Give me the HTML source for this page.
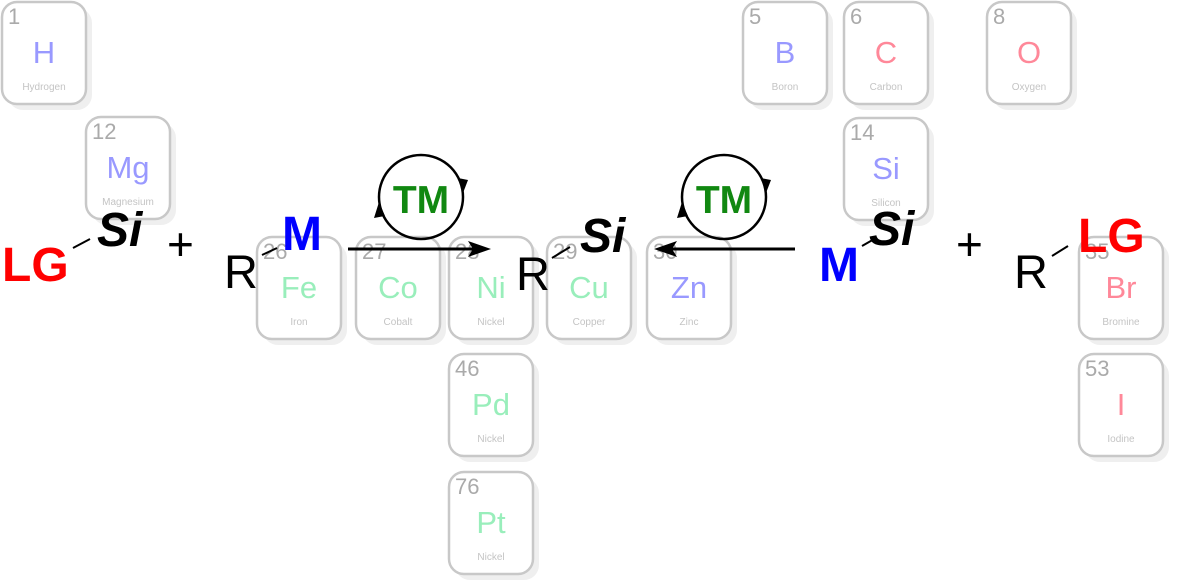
<!DOCTYPE html>
<html><head><meta charset="utf-8"><style>
html,body{margin:0;padding:0;background:#fff;}
svg{display:block;}
.tile{fill:#fff;stroke:#c8c8c8;stroke-width:2.5;}
.sh{fill:#efefef;}
.num{font:22px "Liberation Sans",sans-serif;fill:#aaa;}
.sym{font:31px "Liberation Sans",sans-serif;text-anchor:middle;}
.nm{font:10px "Liberation Sans",sans-serif;fill:#c4c4c4;text-anchor:middle;}
.b{font-family:"Liberation Sans",sans-serif;font-weight:bold;}
.r{font-family:"Liberation Sans",sans-serif;}
</style></head><body>
<svg width="1177" height="586" viewBox="0 0 1177 586" xmlns="http://www.w3.org/2000/svg">
<defs>
<g id="t"><rect class="sh" x="6" y="6" width="84" height="102" rx="15"/><rect class="tile" x="0" y="0" width="84" height="102" rx="15"/></g>
</defs>
<g transform="translate(2,2)"><use href="#t"/><text class="num" x="6" y="22">1</text><text class="sym" x="42" y="61" fill="#9999ff">H</text><text class="nm" x="42" y="88">Hydrogen</text></g>
<g transform="translate(86,117)"><use href="#t"/><text class="num" x="6" y="22">12</text><text class="sym" x="42" y="61" fill="#9999ff">Mg</text><text class="nm" x="42" y="88">Magnesium</text></g>
<g transform="translate(743,2)"><use href="#t"/><text class="num" x="6" y="22">5</text><text class="sym" x="42" y="61" fill="#9999ff">B</text><text class="nm" x="42" y="88">Boron</text></g>
<g transform="translate(844,2)"><use href="#t"/><text class="num" x="6" y="22">6</text><text class="sym" x="42" y="61" fill="#ff8899">C</text><text class="nm" x="42" y="88">Carbon</text></g>
<g transform="translate(987,2)"><use href="#t"/><text class="num" x="6" y="22">8</text><text class="sym" x="42" y="61" fill="#ff8899">O</text><text class="nm" x="42" y="88">Oxygen</text></g>
<g transform="translate(844,118)"><use href="#t"/><text class="num" x="6" y="22">14</text><text class="sym" x="42" y="61" fill="#9999ff">Si</text><text class="nm" x="42" y="88">Silicon</text></g>
<g transform="translate(257,237)"><use href="#t"/><text class="num" x="6" y="22">26</text><text class="sym" x="42" y="61" fill="#99eebb">Fe</text><text class="nm" x="42" y="88">Iron</text></g>
<g transform="translate(356,237)"><use href="#t"/><text class="num" x="6" y="22">27</text><text class="sym" x="42" y="61" fill="#99eebb">Co</text><text class="nm" x="42" y="88">Cobalt</text></g>
<g transform="translate(449,237)"><use href="#t"/><text class="num" x="6" y="22">28</text><text class="sym" x="42" y="61" fill="#99eebb">Ni</text><text class="nm" x="42" y="88">Nickel</text></g>
<g transform="translate(547,237)"><use href="#t"/><text class="num" x="6" y="22">29</text><text class="sym" x="42" y="61" fill="#99eebb">Cu</text><text class="nm" x="42" y="88">Copper</text></g>
<g transform="translate(647,237)"><use href="#t"/><text class="num" x="6" y="22">30</text><text class="sym" x="42" y="61" fill="#9999ff">Zn</text><text class="nm" x="42" y="88">Zinc</text></g>
<g transform="translate(449,354)"><use href="#t"/><text class="num" x="6" y="22">46</text><text class="sym" x="42" y="61" fill="#99eebb">Pd</text><text class="nm" x="42" y="88">Nickel</text></g>
<g transform="translate(449,472)"><use href="#t"/><text class="num" x="6" y="22">76</text><text class="sym" x="42" y="61" fill="#99eebb">Pt</text><text class="nm" x="42" y="88">Nickel</text></g>
<g transform="translate(1079,237)"><use href="#t"/><text class="num" x="6" y="22">35</text><text class="sym" x="42" y="61" fill="#ff8899">Br</text><text class="nm" x="42" y="88">Bromine</text></g>
<g transform="translate(1079,354)"><use href="#t"/><text class="num" x="6" y="22">53</text><text class="sym" x="42" y="61" fill="#ff8899">I</text><text class="nm" x="42" y="88">Iodine</text></g>

<!-- left reaction -->
<text class="b" x="2" y="281" font-size="48" fill="#ff0000">LG</text>
<line x1="73" y1="248" x2="90" y2="239" stroke="#000" stroke-width="2"/>
<text class="b" x="97" y="246" font-size="48" font-style="italic" fill="#000">Si</text>
<text class="r" x="167" y="260" font-size="46" fill="#000">+</text>
<text class="r" x="224" y="288" font-size="47" fill="#000">R</text>
<line x1="262" y1="255" x2="277" y2="248" stroke="#000" stroke-width="2"/>
<text class="b" x="282" y="250" font-size="48" fill="#0000ff">M</text>
<line x1="348" y1="249" x2="478" y2="249" stroke="#000" stroke-width="3"/>
<polygon points="491,249 468,241 473,249 468,257" fill="#000"/>
<circle cx="421" cy="197" r="42" fill="none" stroke="#000" stroke-width="2.5"/>
<polygon points="463,193 458,178 468,180" fill="#000"/>
<polygon points="379,202 374,218 385,216" fill="#000"/>
<text class="b" x="421" y="213" font-size="39" fill="#118811" text-anchor="middle">TM</text>

<!-- middle product -->
<text class="r" x="516" y="290" font-size="47" fill="#000">R</text>
<line x1="552" y1="258" x2="570" y2="247" stroke="#000" stroke-width="2"/>
<text class="b" x="580" y="252" font-size="48" font-style="italic" fill="#000">Si</text>

<line x1="668" y1="249" x2="795" y2="249" stroke="#000" stroke-width="3"/>
<polygon points="654,249 677,241 672,249 677,257" fill="#000"/>
<circle cx="724" cy="197" r="42" fill="none" stroke="#000" stroke-width="2.5"/>
<polygon points="766,193 761,178 771,180" fill="#000"/>
<polygon points="682,202 677,218 688,216" fill="#000"/>
<text class="b" x="724" y="213" font-size="39" fill="#118811" text-anchor="middle">TM</text>

<!-- right reaction -->
<text class="b" x="819" y="281" font-size="48" fill="#0000ff">M</text>
<line x1="862" y1="246" x2="876" y2="238" stroke="#000" stroke-width="2"/>
<text class="b" x="869" y="245" font-size="48" font-style="italic" fill="#000">Si</text>
<text class="r" x="956" y="260" font-size="46" fill="#000">+</text>
<text class="r" x="1014" y="288" font-size="47" fill="#000">R</text>
<line x1="1052" y1="256" x2="1068" y2="246" stroke="#000" stroke-width="2"/>
<text class="b" x="1078" y="252" font-size="48" fill="#ff0000">LG</text>
</svg>
</body></html>
